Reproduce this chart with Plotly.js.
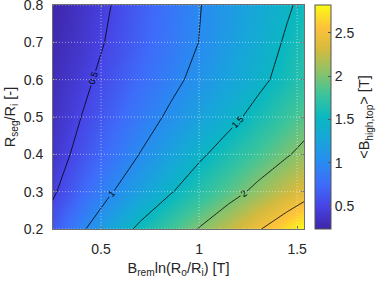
<!DOCTYPE html>
<html>
<head>
<meta charset="utf-8">
<script src="https://cdn.plot.ly/plotly-3.0.1.min.js"></script>
<style>html,body{margin:0;padding:0;background:#fff;}#chart{width:390px;height:282px;}</style>
</head>
<body>
<div id="chart"></div>
<script>
// B_rem ln(Ro/Ri) [T]
const xVals = [0.25, 0.4, 0.55, 0.7, 0.85, 1.0, 1.15, 1.3, 1.45, 1.55];
// R_seg/R_i [-]
const yVals = [0.2, 0.3, 0.4, 0.5, 0.6, 0.7, 0.8];
// <B_high,top> [T], rows follow yVals, columns follow xVals
const zRow020 = [0.62, 0.95, 1.28, 1.571, 1.793, 2.015, 2.244, 2.472, 2.70, 2.853];
const zRow030 = [0.457, 0.717, 0.977, 1.225, 1.472, 1.678, 1.879, 2.077, 2.27, 2.40];
const zRow040 = [0.369, 0.582, 0.795, 1.009, 1.229, 1.449, 1.632, 1.805, 1.977, 2.092];
const zRow050 = [0.33, 0.502, 0.683, 0.864, 1.045, 1.23, 1.414, 1.594, 1.769, 1.886];
const zRow060 = [0.30, 0.44, 0.595, 0.756, 0.917, 1.084, 1.258, 1.431, 1.60, 1.72];
const zRow070 = [0.27, 0.386, 0.531, 0.687, 0.843, 1.003, 1.179, 1.357, 1.536, 1.655];
const zRow080 = [0.235, 0.36, 0.499, 0.66, 0.824, 0.987, 1.148, 1.308, 1.468, 1.575];
const zGrid = [zRow020, zRow030, zRow040, zRow050, zRow060, zRow070, zRow080];

const xTickVals = [0.5, 1, 1.5];
const xTickText = ['0.5', '1', '1.5'];
const yTickVals = [0.2, 0.3, 0.4, 0.5, 0.6, 0.7, 0.8];
const yTickText = ['0.2', '0.3', '0.4', '0.5', '0.6', '0.7', '0.8'];
const cbTickVals = [0.5, 1, 1.5, 2, 2.5];
const cbTickText = ['0.5', '1', '1.5', '2', '2.5'];
const contourStart = 0.5, contourEnd = 2.5, contourStep = 0.5;
const zMin = 0.234, zMax = 2.82;

const parula = [
  [0.00, 'rgb(62,38,168)'],
  [0.10, 'rgb(71,67,228)'],
  [0.20, 'rgb(62,108,250)'],
  [0.30, 'rgb(40,140,240)'],
  [0.40, 'rgb(24,165,218)'],
  [0.50, 'rgb(10,184,192)'],
  [0.60, 'rgb(60,196,155)'],
  [0.70, 'rgb(140,194,105)'],
  [0.80, 'rgb(212,186,62)'],
  [0.90, 'rgb(254,194,58)'],
  [1.00, 'rgb(249,251,20)']
];

const FONT = 'Liberation Sans, Arial, Helvetica, sans-serif';
const TXT = '#262626';

const heat = {
  type: 'heatmap', x: xVals, y: yVals, z: zGrid,
  zsmooth: 'best', colorscale: parula, zmin: zMin, zmax: zMax,
  hoverinfo: 'skip',
  colorbar: {
    thickness: 16, thicknessmode: 'pixels', len: 1, lenmode: 'fraction',
    x: 1.0438, xanchor: 'left', xpad: 0, y: 0.5, yanchor: 'middle', ypad: 0,
    outlinewidth: 1, outlinecolor: '#555',
    ticks: 'inside', ticklen: 3, tickcolor: '#555',
    tickvals: cbTickVals, ticktext: cbTickText,
    tickfont: {family: FONT, size: 14, color: TXT},
    title: {text: '&lt;B<sub>high,top</sub>&gt; [T]', side: 'right', font: {family: FONT, size: 14.5, color: TXT}}
  }
};

const cont = {
  type: 'contour', x: xVals, y: yVals, z: zGrid,
  autocontour: false,
  contours: {start: contourStart, end: contourEnd, size: contourStep, coloring: 'none', showlabels: true,
             labelfont: {family: FONT, size: 9, color: '#000'}},
  line: {color: '#000', width: 0.8, smoothing: 0},
  showscale: false, hoverinfo: 'skip'
};

const gridShapes = [];
xTickVals.forEach(v => gridShapes.push({type: 'line', xref: 'x', yref: 'paper', x0: v, x1: v, y0: 0, y1: 1,
  line: {color: 'rgba(255,255,255,0.5)', width: 1, dash: '1px,2px'}, layer: 'above'}));
yTickVals.forEach(v => gridShapes.push({type: 'line', xref: 'paper', yref: 'y', x0: 0, x1: 1, y0: v, y1: v,
  line: {color: 'rgba(255,255,255,0.5)', width: 1, dash: '1px,2px'}, layer: 'above'}));

const axisCommon = {
  showgrid: false, zeroline: false, showline: true, mirror: 'ticks', linecolor: '#6e6e6e', linewidth: 1,
  ticks: 'inside', ticklen: 3, tickcolor: '#6e6e6e', ticklabeloverflow: 'allow',
  tickfont: {family: FONT, size: 14, color: TXT}
};

const layout = {
  width: 390, height: 282,
  margin: {l: 53, r: 86, t: 5, b: 53, pad: 0},
  paper_bgcolor: '#fff', plot_bgcolor: '#fff',
  showlegend: false,
  xaxis: Object.assign({}, axisCommon, {
    range: [0.255, 1.535], tickvals: xTickVals, ticktext: xTickText, ticklabelstandoff: 7,
    title: {text: 'B<sub>rem</sub>ln(R<sub>o</sub>/R<sub>i</sub>) [T]', font: {family: FONT, size: 14.5, color: TXT}, standoff: 7}
  }),
  yaxis: Object.assign({}, axisCommon, {
    range: [0.2 - 1e-6, 0.8 + 1e-6], tickvals: yTickVals, ticktext: yTickText, ticklabelstandoff: 6,
    title: {text: 'R<sub>seg</sub>/R<sub>i</sub> [-]', font: {family: FONT, size: 14.5, color: TXT}, standoff: 4}
  }),
  shapes: gridShapes
};

Plotly.newPlot('chart', [heat, cont], layout, {displayModeBar: false, staticPlot: true});
</script>
</body>
</html>
